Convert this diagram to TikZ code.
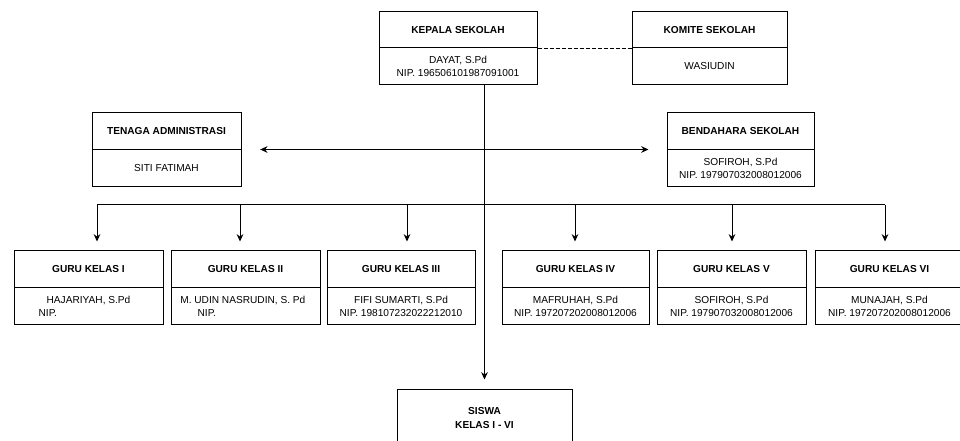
\documentclass[tikz,border=0pt]{standalone}
\usepackage{fontspec}
\setmainfont{Liberation Sans}
\usetikzlibrary{arrows.meta,calc}
\tikzset{
  part/.style={draw=black, line width=0.75pt, inner sep=0pt, align=center,
    font=\fontsize{7.6pt}{10pt}\selectfont},
  ttl/.style={part, font=\fontsize{7.6pt}{10pt}\selectfont\bfseries},
  link/.style={draw=black, line width=0.75pt},
  arr/.style={link, -{Stealth[length=5.5pt,width=5pt]}},
  darr/.style={link, {Stealth[length=5.5pt,width=5pt]}-{Stealth[length=5.5pt,width=5pt]}},
}
% name, xl, xr, ytop, ydiv, ybot, title, body
\newcommand\orgbox[8]{%
  \node[ttl, minimum width={(#3-#2)*0.75pt}, minimum height={(#5-#4)*0.75pt}]
    (#1) at ({(#2+#3)/2},{(#4+#5)/2}) {#7};
  \node[part, minimum width={(#3-#2)*0.75pt}, minimum height={(#6-#5)*0.75pt}]
    (#1b) at ({(#2+#3)/2},{(#5+#6)/2}) {#8};
}
\begin{document}
\begin{tikzpicture}[x=0.75pt,y=-0.75pt]
\useasboundingbox (0,0) rectangle (960,441);
\clip (0,0) rectangle (960,441);
\fill[white] (0,0) rectangle (960,441);

\orgbox{kep}{379}{537}{12}{48}{85}{KEPALA SEKOLAH}{DAYAT, S.Pd\\NIP. 196506101987091001}
\orgbox{kom}{632}{787}{12}{48}{85}{KOMITE SEKOLAH}{WASIUDIN}
\orgbox{ten}{92}{241}{113}{150}{187}{TENAGA ADMINISTRASI}{SITI FATIMAH}
\orgbox{ben}{667}{814}{113}{150}{187}{BENDAHARA SEKOLAH}{SOFIROH, S.Pd\\NIP. 197907032008012006}

\orgbox{g1}{14}{163}{251}{288}{325}{GURU KELAS I}{ HAJARIYAH, S.Pd\\NIP.\hspace*{61pt}}
\orgbox{g2}{171}{320}{251}{288}{325}{GURU KELAS II}{M. UDIN NASRUDIN, S. Pd\hspace*{4pt}\\NIP.\hspace*{58pt}}
\orgbox{g3}{327}{475}{251}{288}{325}{GURU KELAS III}{FIFI SUMARTI, S.Pd\\NIP. 198107232022212010}
\orgbox{g4}{502}{649}{251}{288}{325}{GURU KELAS IV}{MAFRUHAH, S.Pd\\NIP. 197207202008012006}
\orgbox{g5}{657}{806}{251}{288}{325}{GURU KELAS V}{SOFIROH, S.Pd\\NIP. 197907032008012006}
\orgbox{g6}{815}{964}{251}{288}{325}{GURU KELAS VI}{MUNAJAH, S.Pd\\NIP. 197207202008012006}

\node[ttl, minimum width={175*0.75pt}, minimum height={56*0.75pt}] (sis) at (484.5,418) {SISWA\\KELAS I - VI};

% dashed link kepala - komite
\draw[link, dashed, dash pattern=on 3pt off 1.5pt] (kep.south east) -- (kom.south west);

% main vertical
\draw[arr] (sis.north |- kepb.south) -- ($(sis.north)+(0,-10)$);

% double arrow tenaga - bendahara
\draw[darr, shorten <=14pt, shorten >=13.5pt] (tenb.north east) -- (benb.north west);

% bus to teachers
\coordinate (b1) at (97,205);
\coordinate (b2) at (240,205);
\coordinate (b3) at (407,205);
\coordinate (b4) at (575,205);
\coordinate (b5) at (732,205);
\coordinate (b6) at (885,205);
\draw[link] (b1) -- (b6);
\foreach \b/\g in {b1/g1,b2/g2,b3/g3,b4/g4,b5/g5,b6/g6}
  \draw[arr, shorten >=6.75pt] (\b) -- (\b |- \g.north);
\end{tikzpicture}
\end{document}
